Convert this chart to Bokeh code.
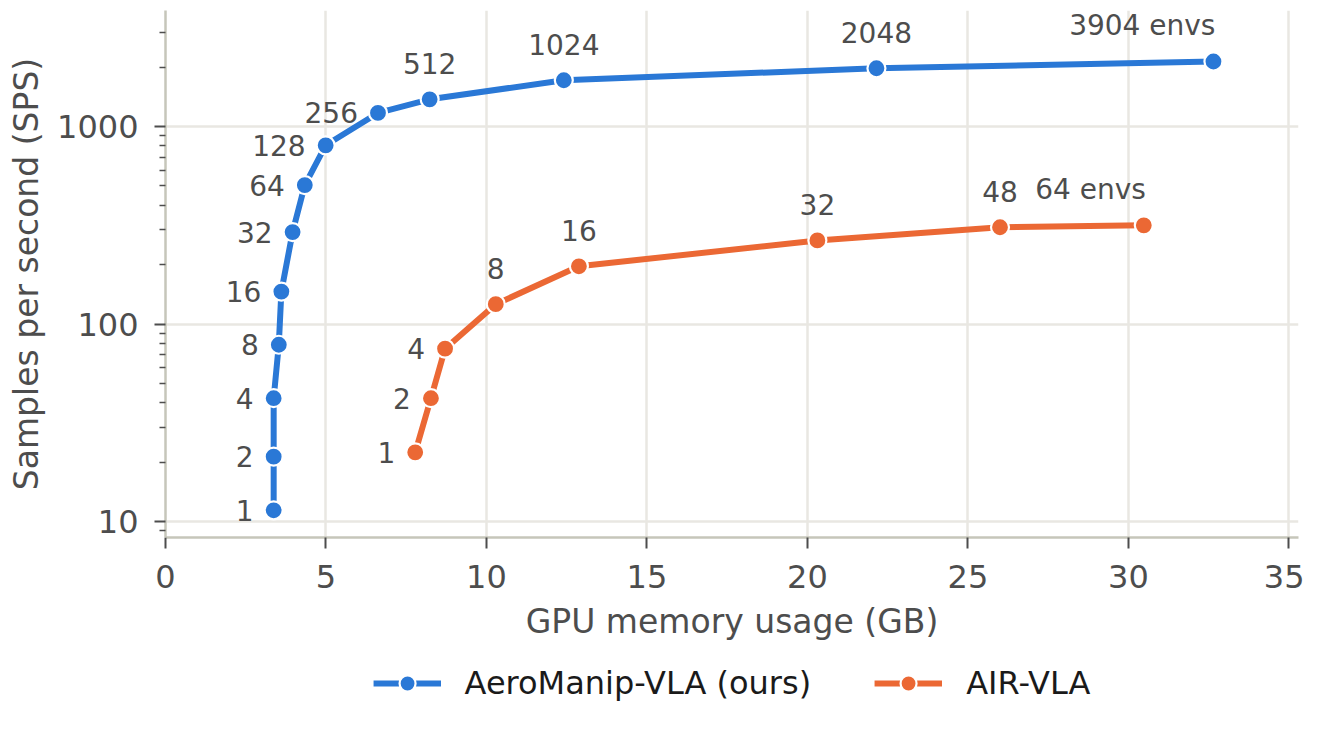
from bokeh.embed import file_html
from bokeh.resources import INLINE
from bokeh.plotting import figure
from bokeh.layouts import column
from bokeh.models import (ColumnDataSource, Range1d, FixedTicker, Legend,
                          LegendItem)
from bokeh.core.properties import value

# data
blue_envs = [1, 2, 4, 8, 16, 32, 64, 128, 256, 512, 1024, 2048, 3904]
blue_mem = [3.37, 3.37, 3.37, 3.53, 3.61, 3.96, 4.34, 4.99, 6.62, 8.23, 12.41, 22.15, 32.65]
blue_sps = [11.4, 21.3, 42.1, 78.5, 146, 292, 505, 803, 1171, 1373, 1714, 1972, 2133]

air_envs = [1, 2, 4, 8, 16, 32, 48, 64]
air_mem = [7.78, 8.27, 8.71, 10.29, 12.88, 20.31, 26.0, 30.48]
air_sps = [22.4, 42.1, 75.0, 126, 196, 265, 309, 316]

x_ticks = [0, 5, 10, 15, 20, 25, 30, 35]
y_ticks = [10, 100, 1000]

BLUE = "#2a78d6"
ORANGE = "#eb6834"
TEXT = "#4d4d4d"
SPINE = "#c6c6ba"
GRID = "#e9e7e2"
FONT = "DejaVu Sans"

p = figure(frame_width=1133, frame_height=527, output_backend="svg",
           toolbar_location=None, y_axis_type="log",
           x_range=Range1d(0, 35.3), y_range=Range1d(8.3, 3866),
           min_border_left=165, min_border_top=10, min_border_right=6,
           min_border_bottom=0)
p.outline_line_color = None
p.background_fill_color = "white"

minor = [d * k for d in [1, 10, 100, 1000] for k in range(2, 10)]
p.yaxis.ticker = FixedTicker(ticks=y_ticks, minor_ticks=minor)
p.xaxis.ticker = FixedTicker(ticks=x_ticks)

for ax in (p.xaxis, p.yaxis):
    ax.axis_line_color = SPINE
    ax.axis_line_width = 2.5
    ax.major_tick_line_color = TEXT
    ax.major_tick_line_width = 2
    ax.major_tick_out = 11
    ax.major_tick_in = 0
    ax.minor_tick_line_color = TEXT
    ax.minor_tick_line_width = 1.5
    ax.minor_tick_out = 6
    ax.minor_tick_in = 0
    ax.major_label_text_font = FONT
    ax.major_label_text_font_size = "32px"
    ax.major_label_text_color = TEXT
    ax.axis_label_text_font = FONT
    ax.axis_label_text_font_size = "33px"
    ax.axis_label_text_color = TEXT
    ax.axis_label_text_font_style = "normal"
p.xaxis.minor_tick_line_color = None
p.xaxis.axis_label = "GPU memory usage (GB)"
p.yaxis.axis_label = "Samples per second (SPS)"
p.xaxis.major_label_standoff = 16
p.yaxis.major_label_standoff = 16
p.xaxis.axis_label_standoff = 11
p.yaxis.axis_label_standoff = 8
p.yaxis.major_label_overrides = {10: "10", 100: "100", 1000: "1000"}

p.xgrid.grid_line_color = GRID
p.ygrid.grid_line_color = GRID
p.xgrid.grid_line_width = 2.5
p.ygrid.grid_line_width = 2.5

FONT_VALUE = value(FONT)


def series(mem, sps, envs, color, left_until):
    src = ColumnDataSource(dict(x=mem, y=sps))
    p.line("x", "y", source=src, line_color=color, line_width=6)
    p.scatter("x", "y", source=src, size=18, fill_color=color,
              line_color="white", line_width=2.2)
    txt, xo, yo, al = [], [], [], []
    for i, n in enumerate(envs):
        last = i == len(envs) - 1
        txt.append(f"{n} envs" if last else str(n))
        if last:
            xo.append(2); yo.append(-36); al.append("right")
        elif n <= left_until:
            xo.append(-20); yo.append(0); al.append("right")
        else:
            xo.append(0); yo.append(-36); al.append("center")
    lab = ColumnDataSource(dict(x=mem, y=sps, t=txt, xo=xo, yo=yo, al=al))
    p.text("x", "y", text="t", source=lab, x_offset="xo", y_offset="yo",
           text_align="al", text_baseline="middle", text_color=TEXT,
           text_font_size="28px", text_font=FONT_VALUE)


series(blue_mem, blue_sps, blue_envs, BLUE, 256)
series(air_mem, air_sps, air_envs, ORANGE, 4)

# legend lives in its own strip under the chart
leg = figure(width=1304, height=80, output_backend="svg", toolbar_location=None,
             x_range=Range1d(0, 1), y_range=Range1d(0, 1),
             min_border_left=165, min_border_right=6, min_border_top=0,
             min_border_bottom=0)
leg.axis.visible = False
leg.grid.visible = False
leg.outline_line_color = None

nan = float("nan")
items = []
for name, color in [("AeroManip-VLA (ours)", BLUE), ("AIR-VLA", ORANGE)]:
    ln = leg.line([nan], [nan], line_color=color, line_width=6)
    sc = leg.scatter([nan], [nan], size=18, fill_color=color,
                     line_color="white", line_width=2.2)
    items.append(LegendItem(label=name, renderers=[ln, sc]))

legend = Legend(items=items, orientation="horizontal", location="center",
                border_line_color=None, background_fill_alpha=0,
                label_text_font=FONT, label_text_font_size="32px",
                label_text_color="#1a1a1a", glyph_width=68, glyph_height=40,
                label_standoff=24, spacing=63, padding=0, margin=0)
leg.add_layout(legend)

layout = column(p, leg, spacing=0)
open("out.html", "w").write(file_html(layout, INLINE))
